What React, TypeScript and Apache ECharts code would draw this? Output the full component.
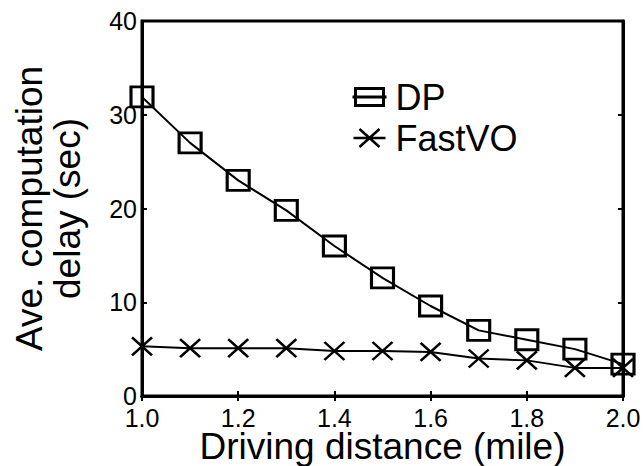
import React, { useEffect, useRef } from "react";
import * as echarts from "echarts";

const distances = [1.0, 1.1, 1.2, 1.3, 1.4, 1.5, 1.6, 1.7, 1.8, 1.9, 2.0];
const dpDelay = [31.9, 27.0, 23.0, 19.8, 16.0, 12.6, 9.6, 7.0, 6.0, 5.0, 3.4];
const fastvoDelay = [5.3, 5.1, 5.1, 5.1, 4.8, 4.8, 4.7, 4.0, 3.8, 3.0, 3.0];
const seriesNames = ["DP", "FastVO"];
const xAxisTitle = "Driving distance (mile)";
const yAxisTitle = "Ave. computation\ndelay (sec)";

const FONT = "'Liberation Sans', Arial, sans-serif";

export default function App() {
  const ref = useRef<HTMLDivElement>(null);
  useEffect(() => {
    if (!ref.current) return;
    const chart = echarts.init(ref.current, null, { renderer: "svg" });
    const toPairs = (ys: number[]) => distances.map((x, i) => [x, ys[i]]);
    const tickCommon = {
      axisLine: { show: true, lineStyle: { color: "#000", width: 3 } },
      axisTick: { show: true, inside: true, length: 5, lineStyle: { color: "#000", width: 2 } },
      splitLine: { show: false },
    };
    chart.setOption({
      animation: false,
      backgroundColor: "#fff",
      textStyle: { fontFamily: FONT },
      grid: {
        left: 142,
        right: 20,
        top: 21,
        bottom: 70,
        show: true,
        borderColor: "#000",
        borderWidth: 3,
        containLabel: false,
        outerBoundsMode: "none",
      },
      legend: {
        orient: "vertical",
        left: 346,
        top: 74,
        itemGap: 5,
        itemWidth: 34,
        itemHeight: 18,
        textStyle: { fontSize: 36, color: "#000", fontFamily: FONT, padding: [0, 0, 0, 4] },
        data: [
          {
            name: seriesNames[0],
            icon: "path://M0,0H28V17H0ZM-3,8.5H31",
            itemStyle: { color: "rgba(0,0,0,0)", borderColor: "#000", borderWidth: 3 },
          },
          {
            name: seriesNames[1],
            icon: "path://M-6,9H26M0,0L20,18M20,0L0,18",
            itemStyle: { color: "rgba(0,0,0,0)", borderColor: "#000", borderWidth: 2.5 },
          },
        ],
      },
      xAxis: [
        {
          type: "value",
          min: 1.0,
          max: 2.0,
          interval: 0.2,
          ...tickCommon,
          axisLabel: {
            color: "#000",
            fontSize: 25,
            lineHeight: 18,
            margin: 13,
            fontFamily: FONT,
            formatter: (v: number) => v.toFixed(1),
          },
          name: xAxisTitle,
          nameLocation: "middle",
          nameGap: 36,
          nameMoveOverlap: false,
          nameTextStyle: {
            fontSize: 37,
            lineHeight: 28,
            color: "#000",
            fontFamily: FONT,
            verticalAlign: "top",
          },
        },
        {
          type: "value",
          position: "top",
          min: 1.0,
          max: 2.0,
          interval: 0.2,
          ...tickCommon,
          axisLabel: { show: false },
        },
      ],
      yAxis: [
        {
          type: "value",
          min: 0,
          max: 40,
          interval: 10,
          ...tickCommon,
          axisLabel: { color: "#000", fontSize: 25, lineHeight: 18, margin: 5, fontFamily: FONT },
          name: yAxisTitle,
          nameLocation: "middle",
          nameGap: 56,
          nameRotate: 90,
          nameMoveOverlap: false,
          nameTextStyle: { fontSize: 37, lineHeight: 38, color: "#000", fontFamily: FONT },
        },
        {
          type: "value",
          position: "right",
          min: 0,
          max: 40,
          interval: 10,
          ...tickCommon,
          axisLabel: { show: false },
        },
      ],
      series: [
        {
          name: seriesNames[0],
          type: "line",
          data: toPairs(dpDelay),
          symbol: "rect",
          symbolSize: [22, 20],
          lineStyle: { color: "#000", width: 2 },
          itemStyle: { color: "rgba(0,0,0,0)", borderColor: "#000", borderWidth: 3 },
          z: 3,
        },
        {
          name: seriesNames[1],
          type: "line",
          data: toPairs(fastvoDelay),
          symbol: "path://M0,0L20,18M20,0L0,18",
          symbolSize: [20, 18],
          lineStyle: { color: "#000", width: 2 },
          itemStyle: { color: "rgba(0,0,0,0)", borderColor: "#000", borderWidth: 2.5 },
          z: 2,
        },
      ],
    });
    return () => chart.dispose();
  }, []);
  return <div ref={ref} style={{ width: 643, height: 466, position: "absolute", left: 0, top: 0 }} />;
}
